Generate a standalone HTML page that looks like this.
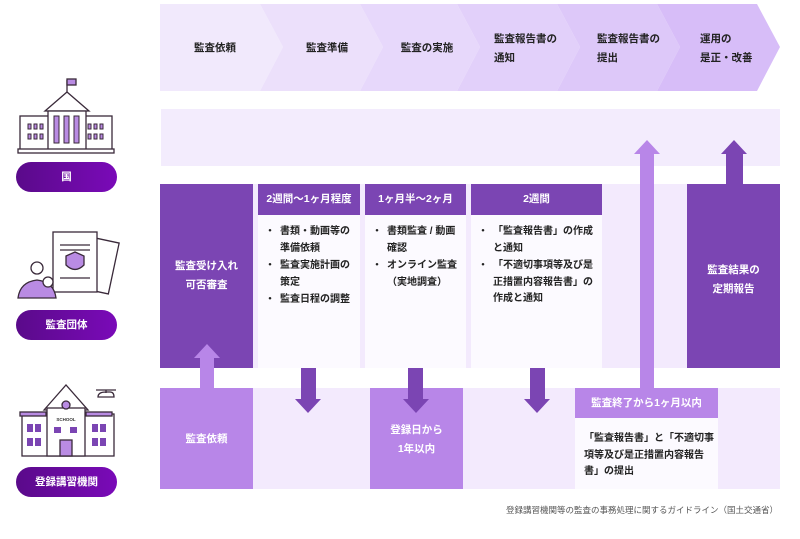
<!DOCTYPE html>
<html><head><meta charset="utf-8">
<style>
*{margin:0;padding:0;box-sizing:border-box}
body{width:800px;height:539px;background:#fff;position:relative;overflow:hidden;font-family:"Liberation Sans","Noto Sans CJK JP",sans-serif;font-weight:bold;color:#222}
.a{position:absolute}
.t{position:absolute;font-size:10.5px;line-height:17px}
.c{text-align:center}
.w{color:#fff}
.pill{position:absolute;left:16px;width:101px;height:30px;border-radius:15px;background:linear-gradient(90deg,#5a0a8a,#7a0ab8);color:#fff;font-size:10.5px;text-align:center;line-height:30px}
ul{list-style:none}
li{position:relative;padding-left:12px;margin-bottom:1px}
li:before{content:"・";position:absolute;left:-3px}
</style></head><body>
<svg class="a" style="left:0;top:0" width="800" height="539">
<polygon points="160,4 260,4 283,47 260,91 160,91" fill="#f1e9fc"/>
<polygon points="260,4 360,4 383,47 360,91 260,91 283,47" fill="#ece0fb"/>
<polygon points="360,4 457,4 480,47 457,91 360,91 383,47" fill="#e7d8fb"/>
<polygon points="457,4 557,4 580,47 557,91 457,91 480,47" fill="#e2d0fa"/>
<polygon points="557,4 657,4 680,47 657,91 557,91 580,47" fill="#ddc8f9"/>
<polygon points="657,4 757,4 780,47 757,91 657,91 680,47" fill="#d7bdf8"/>
<rect x="161" y="109" width="619" height="57" fill="#f3ecfd"/>
<rect x="160" y="184" width="620" height="184" fill="#f3eafd"/>
<rect x="160" y="184" width="93" height="184" fill="#7b45b3"/>
<rect x="258" y="184" width="102" height="184" fill="#fcfaff"/>
<rect x="258" y="184" width="102" height="31" fill="#7b45b3"/>
<rect x="365" y="184" width="101" height="184" fill="#fcfaff"/>
<rect x="365" y="184" width="101" height="31" fill="#7b45b3"/>
<rect x="471" y="184" width="131" height="184" fill="#fcfaff"/>
<rect x="471" y="184" width="131" height="31" fill="#7b45b3"/>
<rect x="687" y="184" width="93" height="184" fill="#7b45b3"/>
<rect x="160" y="388" width="620" height="101" fill="#f3eafd"/>
<rect x="160" y="388" width="93" height="101" fill="#b886e8"/>
<rect x="370" y="388" width="93" height="101" fill="#b886e8"/>
<rect x="575" y="388" width="143" height="101" fill="#fcfaff"/>
<rect x="575" y="388" width="143" height="30" fill="#b886e8"/>
<polygon points="200,388 214,388 214,358 220,358 207,344 194,358 200,358" fill="#b886e8"/>
<polygon points="301,368 316,368 316,399 321,399 308,413 295,399 301,399" fill="#7b45b3"/>
<polygon points="408,368 423,368 423,399 429,399 416,413 403,399 408,399" fill="#7b45b3"/>
<polygon points="530,368 545,368 545,399 550,399 537,413 524,399 530,399" fill="#7b45b3"/>
<polygon points="640,388 654,388 654,154 660,154 647,140 634,154 640,154" fill="#b886e8"/>
<polygon points="726,184 743,184 743,154 747,154 734,140 721,154 726,154" fill="#7b45b3"/>
<g stroke="#3a2a3a" stroke-width="1.3" fill="#fff">
<line x1="67" y1="80" x2="67" y2="93"/>
<rect x="67" y="79" width="9" height="6" fill="#b98be3"/>
<polygon points="45,111 67,92 89,111"/>
<rect x="20" y="116" width="92" height="36"/>
<rect x="48" y="111" width="38" height="41"/>
<rect x="18" y="149" width="96" height="4"/>
</g>
<g fill="#b98be3" stroke="#3a2a3a" stroke-width="1">
<rect x="54" y="116" width="5" height="27"/><rect x="64" y="116" width="5" height="27"/><rect x="74" y="116" width="5" height="27"/>
<rect x="28" y="124" width="3" height="5"/><rect x="34" y="124" width="3" height="5"/><rect x="40" y="124" width="3" height="5"/>
<rect x="28" y="134" width="3" height="5"/><rect x="34" y="134" width="3" height="5"/><rect x="40" y="134" width="3" height="5"/>
<rect x="88" y="124" width="3" height="5"/><rect x="94" y="124" width="3" height="5"/><rect x="100" y="124" width="3" height="5"/>
<rect x="88" y="134" width="3" height="5"/><rect x="94" y="134" width="3" height="5"/><rect x="100" y="134" width="3" height="5"/>
</g>
<g stroke="#3a2a3a" stroke-width="1.3">
<rect x="90" y="240" width="24" height="52" fill="#fff" transform="rotate(12 102 266)"/>
<rect x="53" y="232" width="44" height="60" fill="#fff"/>
<line x1="60" y1="245" x2="90" y2="245"/><line x1="60" y1="250" x2="90" y2="250"/><line x1="60" y1="278" x2="90" y2="278"/>
<path d="M66,256 L75,252 L84,256 L84,265 Q75,274 66,265 Z" fill="#b98be3"/>
<circle cx="37" cy="268" r="6" fill="#fff"/>
<path d="M18,298 Q20,282 37,280 Q54,282 56,298 Z" fill="#b98be3"/>
<circle cx="48" cy="282" r="5" fill="#fff"/>
</g>
<g stroke="#3a2a3a" stroke-width="1.3" fill="#fff">
<rect x="22" y="414" width="92" height="42"/>
<polygon points="44,410 66,385 88,410"/>
<rect x="47" y="408" width="38" height="48"/>
<rect x="20" y="412" width="26" height="4" fill="#b98be3"/>
<rect x="86" y="412" width="26" height="4" fill="#b98be3"/>
<circle cx="66" cy="405" r="4" fill="#b98be3"/>
<rect x="60" y="440" width="12" height="16" fill="#b98be3"/>
<path d="M96,390 h20 M106,390 v3 M98,397 q0,-5 8,-5 h4 q4,0 4,5 z" />
</g>
<g fill="#7b45b3">
<rect x="27" y="424" width="6" height="8"/><rect x="35" y="424" width="6" height="8"/>
<rect x="27" y="438" width="6" height="8"/><rect x="35" y="438" width="6" height="8"/>
<rect x="92" y="424" width="6" height="8"/><rect x="100" y="424" width="6" height="8"/>
<rect x="92" y="438" width="6" height="8"/><rect x="100" y="438" width="6" height="8"/>
<rect x="54" y="427" width="7" height="6"/><rect x="70" y="427" width="7" height="6"/>
</g>
<text x="66" y="421" font-size="4.5" text-anchor="middle" fill="#333" font-family="Liberation Sans">SCHOOL</text>
</svg>

<div class="pill" style="top:162px">国</div>
<div class="pill" style="top:310px">監査団体</div>
<div class="pill" style="top:467px">登録講習機関</div>

<div class="t c" style="left:160px;width:110px;top:40px">監査依頼</div>
<div class="t c" style="left:272px;width:110px;top:40px">監査準備</div>
<div class="t c" style="left:372px;width:110px;top:40px">監査の実施</div>
<div class="t" style="left:494px;top:30px;line-height:19px">監査報告書の<br>通知</div>
<div class="t" style="left:597px;top:30px;line-height:19px">監査報告書の<br>提出</div>
<div class="t" style="left:700px;top:30px;line-height:19px">運用の<br>是正・改善</div>

<div class="t c w" style="left:160px;width:93px;top:257px;line-height:19px">監査受け入れ<br>可否審査</div>
<div class="t c w" style="left:258px;width:102px;top:191px">2週間〜1ヶ月程度</div>
<div class="t c w" style="left:365px;width:101px;top:191px">1ヶ月半〜2ヶ月</div>
<div class="t c w" style="left:471px;width:131px;top:191px">2週間</div>
<div class="t" style="left:268px;top:224px;width:92px;font-size:10px;line-height:16.5px"><ul><li>書類・動画等の<br>準備依頼</li><li>監査実施計画の<br>策定</li><li>監査日程の調整</li></ul></div>
<div class="t" style="left:375px;top:224px;width:92px;font-size:10px;line-height:16.5px"><ul><li>書類監査 / 動画<br>確認</li><li>オンライン監査<br>（実地調査）</li></ul></div>
<div class="t" style="left:481px;top:224px;width:125px;font-size:10px;line-height:16.5px"><ul><li>「監査報告書」の作成<br>と通知</li><li>「不適切事項等及び是<br>正措置内容報告書」の<br>作成と通知</li></ul></div>
<div class="t c w" style="left:687px;width:93px;top:261px;line-height:19px">監査結果の<br>定期報告</div>

<div class="t c w" style="left:160px;width:93px;top:431px">監査依頼</div>
<div class="t c w" style="left:370px;width:93px;top:421px;line-height:19px">登録日から<br>1年以内</div>
<div class="t c w" style="left:575px;width:143px;top:395px">監査終了から1ヶ月以内</div>
<div class="t" style="left:584px;top:431px;width:135px;font-size:10px;line-height:16.5px;white-space:nowrap">「監査報告書」と「不適切事<br>項等及び是正措置内容報告<br>書」の提出</div>

<div class="a" style="right:22px;top:504px;font-size:8.5px;color:#555;font-weight:normal">登録講習機関等の監査の事務処理に関するガイドライン（国土交通省）</div>
</body></html>
